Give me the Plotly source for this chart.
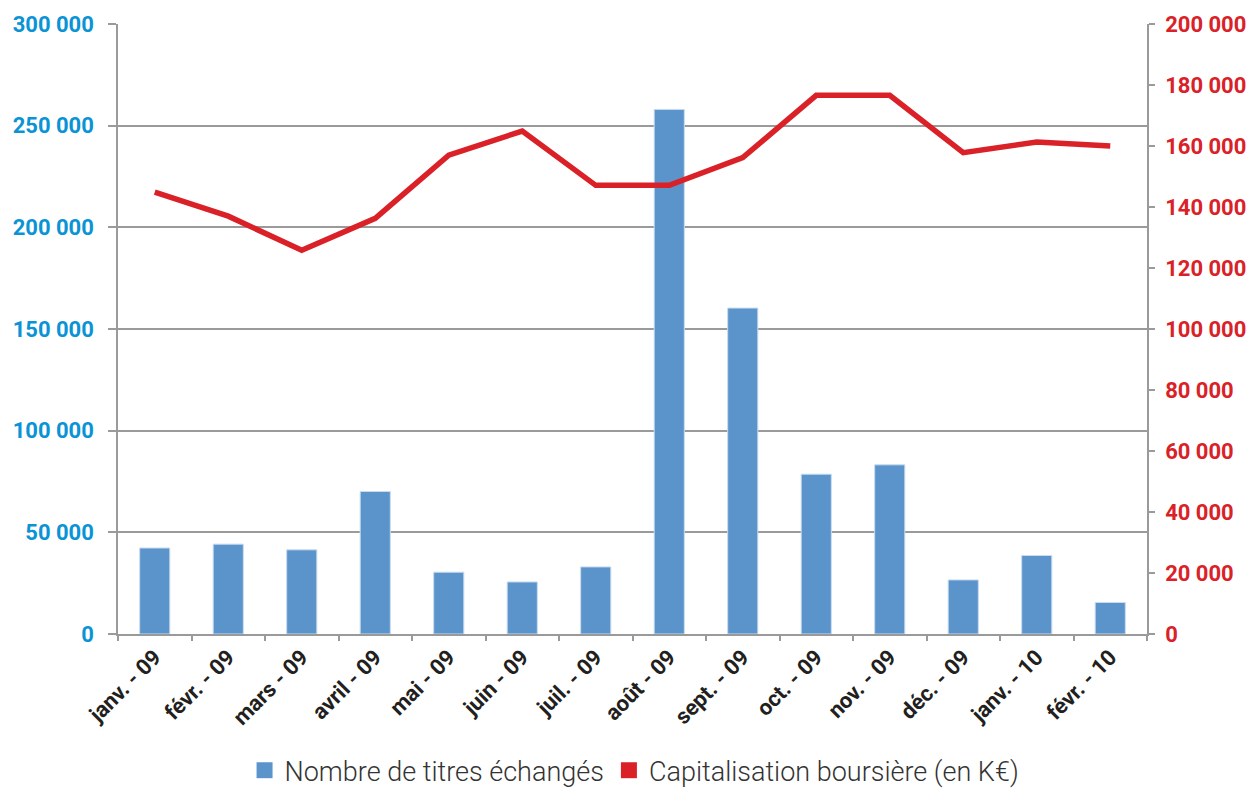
import plotly.graph_objects as go

months = ["janv. - 09", "févr. - 09", "mars - 09", "avril - 09", "mai - 09", "juin - 09",
          "juil. - 09", "août - 09", "sept. - 09", "oct. - 09", "nov. - 09", "déc. - 09",
          "janv. - 10", "févr. - 10"]
titres = [42300, 44200, 41400, 70100, 30400, 25600, 33000,
          258000, 160300, 78600, 83200, 26600, 38600, 15500]
capitalisation = [144900, 137000, 125800, 136300, 157000, 164900, 147100,
                  147100, 156200, 176600, 176600, 157800, 161300, 160000]

BLUE = "#5B93CB"
RED = "#DA2128"
GRID = "#9A9A9A"

fig = go.Figure()

# bars: number of shares traded
fig.add_trace(go.Bar(
    x=months, y=titres,
    name="Nombre de titres échangés",
    marker=dict(color=BLUE, line=dict(color="#C9DCF0", width=1)),
    showlegend=False,
))

# line: market capitalisation on right axis
fig.add_trace(go.Scatter(
    x=months, y=capitalisation, yaxis="y2",
    mode="lines", line=dict(color=RED, width=5.5),
    name="Capitalisation boursière (en K€)",
    showlegend=False,
))

# legend entries drawn as squares
fig.add_trace(go.Scatter(x=[None], y=[None], mode="markers",
                         marker=dict(symbol="square", size=16, color=BLUE),
                         name="Nombre de titres échangés"))
fig.add_trace(go.Scatter(x=[None], y=[None], mode="markers",
                         marker=dict(symbol="square", size=16, color=RED),
                         name="Capitalisation boursière (en K€)"))

# page body adds 8px, so the figure is a bit smaller than the window
fig.update_layout(
    width=1251, height=782,
    margin=dict(l=110, r=112, t=16, b=156, autoexpand=False),
    paper_bgcolor="white", plot_bgcolor="white",
    separators=", ",
    barmode="overlay", bargap=0.59,
    font=dict(family="Roboto", color="#231F20"),
    xaxis=dict(
        type="category", tickangle=-45, tickson="boundaries",
        ticks="outside", ticklen=5, tickcolor=GRID, tickwidth=1.5,
        showline=True, linecolor=GRID, linewidth=1.5, showgrid=False,
        automargin=False,
        tickfont=dict(family="Roboto", size=22, color="#231F20", weight="bold"),
    ),
    yaxis=dict(
        range=[0, 300000], dtick=50000, tickformat=",d",
        showgrid=True, gridcolor=GRID, gridwidth=1.5,
        showline=True, linecolor=GRID, linewidth=1.5,
        ticks="outside", ticklen=8, tickcolor=GRID, tickwidth=1.5,
        ticklabelstandoff=10, zeroline=False, automargin=False,
        tickfont=dict(family="Roboto", size=22, color="#0A93D5", weight="bold"),
    ),
    yaxis2=dict(
        range=[0, 200000], dtick=20000, tickformat=",d",
        overlaying="y", side="right", showgrid=False,
        showline=True, linecolor=GRID, linewidth=1.5,
        ticks="outside", ticklen=6, tickcolor=GRID, tickwidth=1.5,
        ticklabelstandoff=6, zeroline=False, automargin=False,
        tickfont=dict(family="Roboto", size=22, color=RED, weight="bold"),
    ),
    legend=dict(
        orientation="h", x=0.502, xanchor="center", y=-0.224, yanchor="middle",
        font=dict(family="Roboto", size=27, color="#333333", weight=300),
        itemsizing="trace", bgcolor="rgba(0,0,0,0)",
    ),
)

fig.write_html("out.html")
